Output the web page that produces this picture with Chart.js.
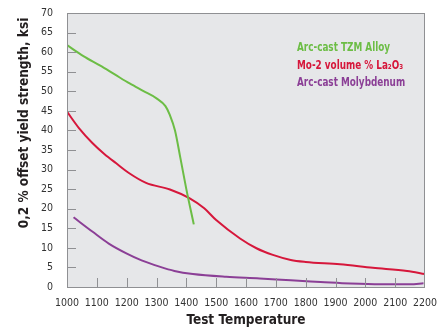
<!DOCTYPE html>
<html>
<head>
<meta charset="utf-8">
<script src="https://cdn.jsdelivr.net/npm/chart.js@4/dist/chart.umd.min.js"></script>
<style>
  html, body { margin: 0; padding: 0; background: #fff; }
  #wrap { width: 442px; height: 333px; position: relative; }
</style>
</head>
<body>
<div id="wrap"><canvas id="chart"></canvas></div>
<script>
// series data (temperature, ksi)
const tzm_temps = [1000, 1055, 1110, 1160, 1210, 1255, 1300, 1330, 1345, 1362, 1380, 1400, 1425];
const tzm_values = [61.8, 59, 56.6, 54.3, 52, 50.1, 48.2, 46.2, 43.9, 40, 33, 25, 16];

const la_temps = [1000, 1040, 1085, 1125, 1165, 1210, 1265, 1345, 1410, 1460, 1500, 1580, 1635, 1690, 1750, 1800, 1915, 2025, 2140, 2200];
const la_values = [44.8, 40.6, 36.8, 34.0, 31.6, 29.0, 26.6, 24.9, 22.7, 20.1, 17.1, 12.4, 9.9, 8.2, 6.9, 6.4, 5.8, 4.9, 4.1, 3.3];

const mo_temps = [1022, 1086, 1140, 1199, 1250, 1310, 1360, 1422, 1534, 1646, 1750, 1850, 1950, 2050, 2150, 2195];
const mo_values = [17.8, 14.1, 11.1, 8.6, 6.8, 5.2, 4.1, 3.3, 2.6, 2.2, 1.7, 1.3, 0.9, 0.7, 0.7, 0.95];

const series_labels = ["Arc-cast TZM Alloy", "Mo-2 volume % La\u2082O\u2083", "Arc-cast Molybdenum"];
const series_colors = ["#6cbd45", "#d6173b", "#8b3f96"];

const x_ticks = [1000, 1100, 1200, 1300, 1400, 1500, 1600, 1700, 1800, 1900, 2000, 2100, 2200];
const y_ticks = [0, 5, 10, 15, 20, 25, 30, 35, 40, 45, 50, 55, 60, 65, 70];

const x_title = "Test Temperature";
const y_title = "0,2 % offset yield strength, ksi";

const FONT = "'DejaVu Sans Condensed', 'Liberation Sans Narrow', sans-serif";

function toPoints(xs, ys) {
    return xs.map((x, i) => { return { x: x, y: ys[i] } });
}

// plot background + inner tick marks + text legend + y title
const decor = {
    id: "decor",
    beforeDraw(chart) {
        const a = chart.chartArea;
        const ctx = chart.ctx;
        ctx.save();
        ctx.fillStyle = "#e6e7e9";
        ctx.fillRect(a.left, a.top, a.right - a.left, a.bottom - a.top);
        ctx.restore();
    },
    afterDatasetsDraw(chart) {
        const a = chart.chartArea;
        const ctx = chart.ctx;
        const xs = chart.scales.x, ys = chart.scales.y;
        ctx.save();
        ctx.strokeStyle = "#8f9093";
        ctx.lineWidth = 1;
        ctx.beginPath();
        y_ticks.slice(1, -1).forEach((v) => {
            let py = Math.round(ys.getPixelForValue(v)) + 0.5;
            ctx.moveTo(a.left, py); ctx.lineTo(a.left + 9, py);
        });
        x_ticks.slice(1, -1).forEach((v) => {
            let px = Math.round(xs.getPixelForValue(v)) + 0.5;
            ctx.moveTo(px, a.bottom); ctx.lineTo(px, a.bottom - 9);
        });
        ctx.stroke();

        ctx.strokeStyle = "#8f9093";
        ctx.strokeRect(a.left + 0.5, a.top + 0.5, a.right - a.left - 1, a.bottom - a.top);

        // y title sits a bit above the middle in the original
        ctx.save();
        ctx.font = "bold 13.5px " + FONT;
        ctx.fillStyle = "#231f20";
        ctx.textAlign = "center";
        ctx.textBaseline = "middle";
        ctx.translate(24, 123);
        ctx.rotate(-Math.PI / 2);
        ctx.fillText(y_title, 0, 0);
        ctx.restore();

        // legend text, squeezed a bit horizontally like the condensed original
        ctx.font = "bold 12px " + FONT;
        ctx.textBaseline = "middle";
        ctx.textAlign = "left";
        ctx.translate(297, 0);
        ctx.scale(0.82, 1);
        series_labels.forEach((t, i) => {
            ctx.fillStyle = series_colors[i];
            ctx.fillText(t, 0, 48 + i * 17.5);
        });
        ctx.restore();
    }
};

new Chart(document.getElementById("chart"), {
    type: "line",
    data: {
        datasets: [
            { label: series_labels[0], data: toPoints(tzm_temps, tzm_values), borderColor: series_colors[0] },
            { label: series_labels[1], data: toPoints(la_temps, la_values), borderColor: series_colors[1] },
            { label: series_labels[2], data: toPoints(mo_temps, mo_values), borderColor: series_colors[2] }
        ]
    },
    options: {
        responsive: true,
        maintainAspectRatio: false,
        animation: false,
        layout: { padding: { top: 13, right: 17, left: 0, bottom: 0 } },
        elements: {
            line: { borderWidth: 2, cubicInterpolationMode: "monotone", fill: false },
            point: { radius: 0 }
        },
        plugins: { legend: { display: false }, tooltip: { enabled: false } },
        scales: {
            x: {
                type: "linear",
                min: 1000, max: 2200,
                afterBuildTicks: (s) => { s.ticks = x_ticks.map((v) => { return { value: v } }) },
                afterFit: (s) => { s.height = 46 },
                grid: { display: false },
                border: { display: false },
                ticks: { color: "#333", font: { family: FONT, size: 10.5 }, padding: 2, maxRotation: 0, autoSkip: false,
                         callback: (v) => { return String(v) } },
                title: { display: true, text: x_title, color: "#231f20", font: { family: FONT, size: 13.5, weight: "bold" }, padding: { top: 11 } }
            },
            y: {
                min: 0, max: 70,
                afterBuildTicks: (s) => { s.ticks = y_ticks.map((v) => { return { value: v } }) },
                afterFit: (s) => { s.width = 67 },
                grid: { display: false },
                border: { display: false },
                ticks: { color: "#333", font: { family: FONT, size: 10.5 }, padding: 6, autoSkip: false,
                         callback: (v) => { return String(v) } },
                title: { display: false }
            }
        }
    },
    plugins: [decor]
});
</script>
</body>
</html>
